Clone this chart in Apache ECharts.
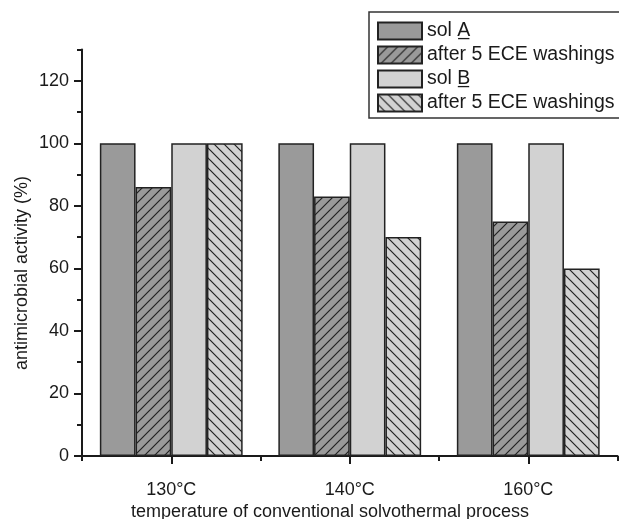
<!DOCTYPE html>
<html>
<head>
<meta charset="utf-8">
<script src="https://cdn.jsdelivr.net/npm/echarts@6/dist/echarts.min.js"></script>
<style>
  html, body { margin: 0; padding: 0; background: #fff; }
  #chart { width: 619px; height: 519px; }
</style>
</head>
<body>
<div id="chart"></div>
<script>
// Temperatures of the conventional solvothermal treatment
const categories = ['130°C', '140°C', '160°C'];

// Antimicrobial activity (%) per sol, before and after 5 ECE washings
const solA = [100, 100, 100];
const solAWashed = [86, 83, 75];
const solB = [100, 100, 100];
const solBWashed = [100, 70, 60];

const seriesKeys = ['solA', 'solAWashed', 'solB', 'solBWashed'];
const legendLabels = ['sol A\u0332', 'after 5 ECE washings', 'sol B\u0332', 'after 5 ECE washings'];

// Value axis ticks
const majorTicks = [0, 20, 40, 60, 80, 100, 120];
const minorTicks = [10, 30, 50, 70, 90, 110, 130];

const FONT = 'Liberation Sans, Arial, Helvetica, sans-serif';
const INK = '#1a1a1a';
const DARK = '#9a9a9a';
const LIGHT = '#d2d2d2';

// Diagonal hatch tile: '/' or '\' lines over a flat fill
function hatch(bg, dir) {
  const s = 10;
  const c = document.createElement('canvas');
  c.width = s; c.height = s;
  const g = c.getContext('2d');
  g.fillStyle = bg;
  g.fillRect(0, 0, s, s);
  g.strokeStyle = '#222';
  g.lineWidth = 1.2;
  g.beginPath();
  if (dir === '/') {
    g.moveTo(-1, s + 1); g.lineTo(s + 1, -1);
    g.moveTo(-2, 2); g.lineTo(2, -2);
    g.moveTo(s - 2, s + 2); g.lineTo(s + 2, s - 2);
  } else {
    g.moveTo(-1, -1); g.lineTo(s + 1, s + 1);
    g.moveTo(s - 2, -2); g.lineTo(s + 2, 2);
    g.moveTo(-2, s - 2); g.lineTo(2, s + 2);
  }
  g.stroke();
  return { image: c, repeat: 'repeat' };
}

const fills = [DARK, hatch(DARK, '/'), LIGHT, hatch(LIGHT, '\\')];
const values = [solA, solAWashed, solB, solBWashed];

const chart = echarts.init(document.getElementById('chart'), null, { renderer: 'canvas' });

chart.setOption({
  animation: false,
  backgroundColor: '#ffffff',
  textStyle: { fontFamily: FONT, color: INK },
  grid: { left: 82, right: 1.5, top: 49.5, bottom: 63, containLabel: false },
  legend: {
    orient: 'vertical',
    left: 369,
    top: 12,
    padding: [9, 14, 5, 8],
    icon: 'rect',
    itemWidth: 44,
    itemHeight: 17,
    itemGap: 4,
    borderColor: '#333',
    borderWidth: 1.5,
    borderRadius: 0,
    data: seriesKeys,
    formatter: name => legendLabels[seriesKeys.indexOf(name)],
    itemStyle: { borderColor: '#222', borderWidth: 2 },
    textStyle: { fontFamily: FONT, fontSize: 19.5, color: INK }
  },
  xAxis: [
    {
      type: 'category',
      data: categories,
      axisLine: { show: true, lineStyle: { color: INK, width: 2 } },
      axisTick: { show: true, alignWithLabel: true, length: 8, lineStyle: { color: INK, width: 2 } },
      axisLabel: { fontFamily: FONT, fontSize: 18, color: INK, margin: 25 },
      splitLine: { show: false }
    },
    {
      // short ticks on the category boundaries
      type: 'category',
      data: categories,
      position: 'bottom',
      axisLine: { show: false },
      axisTick: { show: true, length: 5, lineStyle: { color: INK, width: 2 } },
      axisLabel: { show: false },
      splitLine: { show: false }
    }
  ],
  yAxis: [
    {
      type: 'value',
      min: 0,
      max: 130,
      axisLine: { show: true, lineStyle: { color: INK, width: 2 } },
      axisTick: { show: true, length: 8, customValues: majorTicks, lineStyle: { color: INK, width: 2 } },
      axisLabel: { fontFamily: FONT, fontSize: 18, color: INK, margin: 13, customValues: majorTicks },
      splitLine: { show: false }
    },
    {
      type: 'value',
      min: 0,
      max: 130,
      position: 'left',
      axisLine: { show: false },
      axisTick: { show: true, length: 5, customValues: minorTicks, lineStyle: { color: INK, width: 2 } },
      axisLabel: { show: false },
      splitLine: { show: false }
    }
  ],
  series: seriesKeys.map((key, i) => ({
    name: key,
    type: 'bar',
    xAxisIndex: 0,
    yAxisIndex: 0,
    data: values[i],
    barGap: '0%',
    barCategoryGap: '20%',
    itemStyle: { color: fills[i], borderColor: '#222', borderWidth: 1.5 },
    emphasis: { disabled: true }
  })),
  graphic: [
    {
      type: 'text',
      x: 22,
      y: 273,
      rotation: Math.PI / 2,
      style: {
        text: 'antimicrobial activity (%)',
        font: '18px ' + FONT,
        fill: INK,
        align: 'center',
        verticalAlign: 'middle'
      }
    },
    {
      type: 'text',
      x: 330,
      y: 512,
      style: {
        text: 'temperature of conventional solvothermal process',
        font: '18px ' + FONT,
        fill: INK,
        align: 'center',
        verticalAlign: 'middle'
      }
    }
  ]
});
</script>
</body>
</html>
